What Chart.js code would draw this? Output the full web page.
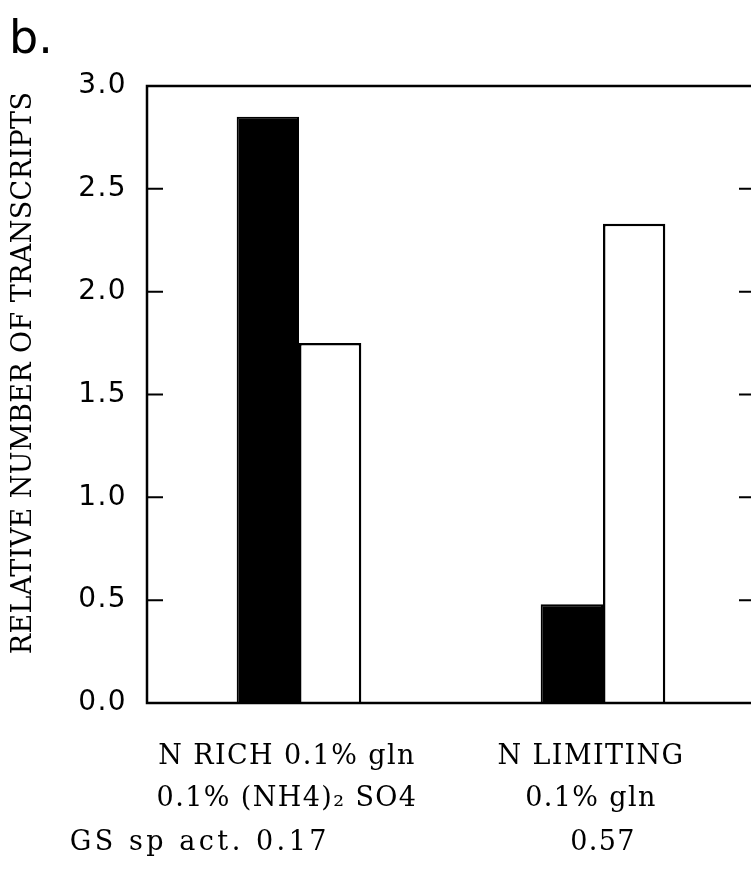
<!DOCTYPE html>
<html>
<head>
<meta charset="utf-8">
<script src="https://cdn.jsdelivr.net/npm/chart.js@4"></script>
<style>
  html, body { margin: 0; padding: 0; background: #fff; overflow: hidden; }
  #wrap { position: relative; width: 751px; height: 871px; overflow: hidden; }
  #panel-letter { position: absolute; left: 9px; top: 10px; font: 46px "DejaVu Sans", sans-serif; color: #000; }
  canvas { position: absolute; left: 0; top: 0; }
</style>
</head>
<body>
<div id="wrap">
  <canvas id="chart" width="780" height="871"></canvas>
  <div id="panel-letter">b.</div>
</div>
<script>
// values
const categories = [
    ['N RICH 0.1% gln', '0.1% (NH4)\u2082 SO4'],
    ['N LIMITING', '0.1% gln']
];
const blackValues = [2.85, 0.48];
const whiteValues = [1.75, 2.33];
const gsLabel = 'GS sp act.';
const gsValues = ['0.17', '0.57'];
const yTicks = [0, 0.5, 1.0, 1.5, 2.0, 2.5, 3.0];
const yTitle = 'RELATIVE NUMBER OF TRANSCRIPTS';

const SERIF = '"DejaVu Serif", serif';
const SANS = '"DejaVu Sans", sans-serif';

// old typewriter-ish labels are spaced out a bit
const spacingPlugin = {
    id: 'spacing',
    beforeDraw(chart) { chart.ctx.letterSpacing = '1.4px'; }
};

// frame + inward tick marks on both sides, like the original plot
const framePlugin = {
    id: 'frame',
    afterDraw(chart) {
        const { ctx, chartArea: a, scales: { y } } = chart;
        ctx.save();
        ctx.strokeStyle = '#000';
        ctx.lineWidth = 2.5;
        ctx.strokeRect(a.left, a.top, a.right - a.left, a.bottom - a.top);
        ctx.lineWidth = 2;
        yTicks.slice(1, -1).forEach(v => {
            const py = y.getPixelForValue(v);
            ctx.beginPath();
            ctx.moveTo(a.left, py); ctx.lineTo(a.left + 16, py);
            ctx.moveTo(a.right - 16, py); ctx.lineTo(a.right, py);
            ctx.stroke();
        });
        ctx.restore();
    }
};

// rotated y title and the GS activity row under the category labels
const textPlugin = {
    id: 'extraText',
    afterDraw(chart) {
        const { ctx, chartArea: a, scales: { x } } = chart;
        ctx.save();
        ctx.fillStyle = '#000';
        ctx.letterSpacing = '0.4px';
        ctx.font = '27px ' + SERIF;
        ctx.textAlign = 'center';
        ctx.textBaseline = 'middle';
        ctx.translate(24, 373);
        ctx.rotate(-Math.PI / 2);
        ctx.fillText(yTitle, 0, 0);
        ctx.restore();

        ctx.save();
        ctx.fillStyle = '#000';
        ctx.font = '27px ' + SERIF;
        ctx.textBaseline = 'middle';
        const rowY = a.bottom + 140;
        ctx.letterSpacing = '3.5px';
        ctx.textAlign = 'right';
        ctx.fillText(gsLabel + ' ' + gsValues[0], x.getPixelForValue(0) + 31, rowY);
        ctx.letterSpacing = '1.4px';
        ctx.textAlign = 'center';
        ctx.fillText(gsValues[1], x.getPixelForValue(1), rowY);
        ctx.restore();
    }
};

new Chart(document.getElementById('chart').getContext('2d'), {
    type: 'bar',
    data: {
        labels: categories,
        datasets: [
            { data: blackValues, backgroundColor: '#000', borderColor: '#000', borderWidth: 2 },
            { data: whiteValues, backgroundColor: '#fff', borderColor: '#000', borderWidth: 2.5 }
        ]
    },
    options: {
        responsive: false, animation: false,
        devicePixelRatio: 1,
        layout: { padding: { top: 86, right: 25, bottom: 0, left: 0 } },
        categoryPercentage: 0.41, barPercentage: 1,
        plugins: { legend: { display: false }, tooltip: { enabled: false } },
        scales: {
            x: {
                grid: { display: false, drawTicks: false },
                border: { display: false },
                ticks: { color: '#000', padding: 33, labelOffset: -12, maxRotation: 0, autoSkip: false,
                         font: { family: SERIF, size: 27, lineHeight: 1.55 } },
                afterFit: s => { s.height = 168; }
            },
            y: {
                min: 0, max: 3,
                grid: { display: false, drawTicks: false },
                border: { display: false },
                afterBuildTicks: s => { s.ticks = yTicks.map(v => ({ value: v })); },
                ticks: { color: '#000', padding: 20, font: { family: SANS, size: 28 },
                         callback: v => Number(v).toFixed(1) },
                afterFit: s => { s.width = 147; }
            }
        }
    },
    plugins: [spacingPlugin, framePlugin, textPlugin]
});
</script>
</body>
</html>
